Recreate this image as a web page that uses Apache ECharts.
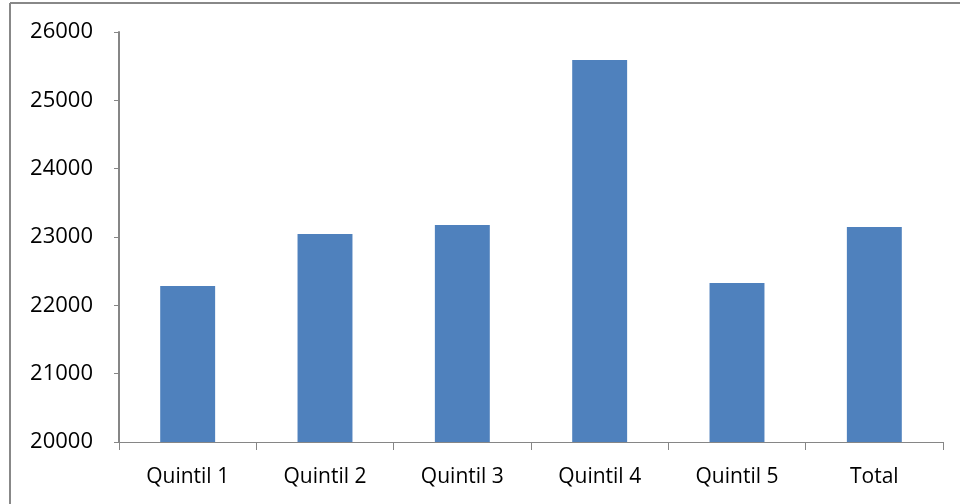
<!DOCTYPE html>
<html>
<head>
<meta charset="utf-8">
<script src="https://cdn.jsdelivr.net/npm/echarts@6/dist/echarts.min.js"></script>
<style>
  html, body { margin: 0; padding: 0; background: #fff; }
  #chart { width: 960px; height: 504px; }
</style>
</head>
<body>
<div id="chart"></div>
<script>
// Categories and values
const categories = ['Quintil 1', 'Quintil 2', 'Quintil 3', 'Quintil 4', 'Quintil 5', 'Total'];
const values = [22283, 23044, 23176, 25590, 22327, 23146];
const yTicks = [20000, 21000, 22000, 23000, 24000, 25000, 26000];

const axisGray = '#868686';
const font = '"Open Sans", Lato, sans-serif';

const chart = echarts.init(document.getElementById('chart'), null, { renderer: 'canvas' });
chart.setOption({
  animation: false,
  backgroundColor: '#ffffff',
  grid: { left: 119, right: 17, top: 32, bottom: 62, containLabel: false },
  graphic: [
    // frame lines along the top and left edge
    { type: 'line', shape: { x1: 10, y1: 3, x2: 960, y2: 3 }, style: { stroke: '#888888', lineWidth: 2 } },
    { type: 'line', shape: { x1: 10, y1: 3, x2: 10, y2: 504 }, style: { stroke: '#888888', lineWidth: 2 } }
  ],
  xAxis: {
    type: 'category',
    data: categories,
    axisLine: { show: true, lineStyle: { color: axisGray, width: 1 } },
    axisTick: { show: true, alignWithLabel: false, length: 8, inside: false, lineStyle: { color: axisGray } },
    axisLabel: { color: '#000', fontFamily: font, fontSize: 21, margin: 25 },
    splitLine: { show: false }
  },
  yAxis: {
    type: 'value',
    min: yTicks[0],
    max: yTicks[yTicks.length - 1],
    interval: 1000,
    axisLine: { show: true, lineStyle: { color: axisGray, width: 2 } },
    axisTick: { show: true, length: 5, lineStyle: { color: axisGray } },
    axisLabel: { color: '#000', fontFamily: font, fontSize: 22, margin: 26, formatter: v => String(v) },
    splitLine: { show: false }
  },
  series: [{
    type: 'bar',
    data: values,
    barWidth: '40%',
    itemStyle: { color: '#4F81BD' }
  }]
});
</script>
</body>
</html>
